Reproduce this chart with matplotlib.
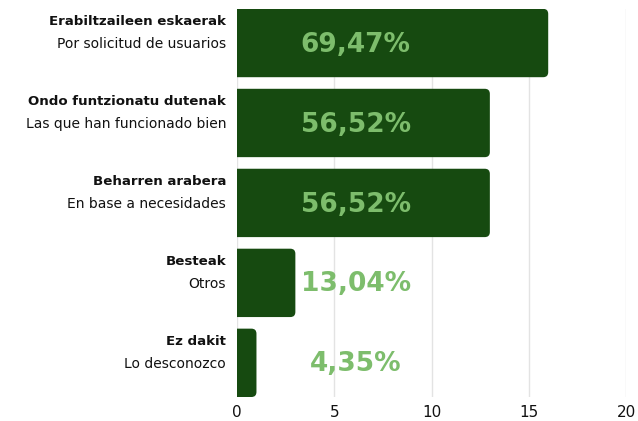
import matplotlib
matplotlib.use("Agg")
import matplotlib.pyplot as plt
from matplotlib.patches import FancyBboxPatch
from matplotlib.transforms import blended_transform_factory

#
# chart data
#
labels_eu = ["Erabiltzaileen eskaerak", "Ondo funtzionatu dutenak", "Beharren arabera", "Besteak", "Ez dakit"]
labels_es = ["Por solicitud de usuarios", "Las que han funcionado bien", "En base a necesidades", "Otros", "Lo desconozco"]
counts = [16, 13, 13, 3, 1]
percents = ["69,47%", "56,52%", "56,52%", "13,04%", "4,35%"]

bar_color = "#164a10"
pct_color = "#7dbd6c"
plt.rcParams['font.family'] = ['DejaVu Sans']

fig = plt.figure(figsize=(6.38, 4.21), dpi=100)
ax = fig.add_axes([0.3715, 0.057, 0.6097, 0.922])

bar_h = 0.855
ax.set_xlim(0, 20)
ax.set_ylim(len(counts) - 1 + bar_h / 2, -bar_h / 2)

# rounded bars, left side pushed under the axis so only right corners show
for i, v in enumerate(counts):
    patch = FancyBboxPatch((-0.5, i - bar_h / 2), v + 0.5, bar_h,
                           boxstyle="round,pad=0,rounding_size=0.26",
                           mutation_aspect=0.245,
                           facecolor=bar_color, edgecolor="none", zorder=3)
    ax.add_patch(patch)
    ax.text(6.1, i + 0.02, percents[i], ha="center", va="center",
            fontsize=19, fontweight="bold", color=pct_color, zorder=4)

# two line category labels
trans = blended_transform_factory(ax.transAxes, ax.transData)
for i in range(len(counts)):
    ax.text(-0.028, i - 0.27, labels_eu[i], transform=trans, ha="right", va="center",
            fontsize=9.6, fontweight="bold", color="#111111")
    ax.text(-0.028, i + 0.01, labels_es[i], transform=trans, ha="right", va="center",
            fontsize=10, color="#111111")

ax.set_xticks([0, 5, 10, 15, 20])
ax.set_yticks([])
ax.tick_params(axis='x', length=0, labelsize=11, pad=6, colors="#111111")
ax.grid(True, axis='x', color="#e3e3e3", linewidth=1, zorder=0)
ax.set_axisbelow(True)
for s in ax.spines.values():
    s.set_visible(False)

fig.savefig("out.png", dpi=100)
